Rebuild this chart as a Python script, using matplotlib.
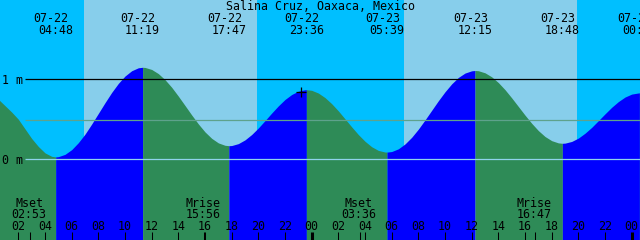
import numpy as np
import matplotlib
matplotlib.use('Agg')
import matplotlib.pyplot as plt

title = 'Salina Cruz, Oaxaca, Mexico'

# tide level (m), hours counted from 07-22 00:00
tide_hours = [0.5, 1.0, 1.5, 2.0, 2.5, 3.0, 3.5, 4.0, 4.5, 4.8,
              5.0, 5.5, 6.0, 6.5, 7.0, 7.5, 8.0, 8.5, 9.0, 9.5, 10.0, 10.5, 11.0, 11.317,
              11.5, 12.0, 12.5, 13.0, 13.5, 14.0, 14.5, 15.0, 15.5, 16.0, 16.5, 17.0, 17.5, 17.783,
              18.0, 18.5, 19.0, 19.5, 20.0, 20.5, 21.0, 21.5, 22.0, 22.5, 23.0, 23.5, 23.6,
              24.0, 24.5, 25.0, 25.5, 26.0, 26.5, 27.0, 27.5, 28.0, 28.5, 29.0, 29.5, 29.65,
              30.0, 30.5, 31.0, 31.5, 32.0, 32.5, 33.0, 33.5, 34.0, 34.5, 35.0, 35.5, 36.0, 36.25,
              36.5, 37.0, 37.5, 38.0, 38.5, 39.0, 39.5, 40.0, 40.5, 41.0, 41.5, 42.0, 42.5, 42.8,
              43.0, 43.5, 44.0, 44.5, 45.0, 45.5, 46.0, 46.5, 47.0, 47.5, 48.0, 48.5, 48.58, 49.0]
tide_level = [0.75, 0.67, 0.59, 0.50, 0.38, 0.26, 0.16, 0.08, 0.037, 0.03,
              0.033, 0.062, 0.121, 0.208, 0.315, 0.441, 0.574, 0.708, 0.836, 0.949, 1.041, 1.107, 1.144, 1.15,
              1.148, 1.123, 1.071, 0.995, 0.900, 0.789, 0.672, 0.554, 0.442, 0.342, 0.262, 0.205, 0.175, 0.17,
              0.172, 0.196, 0.243, 0.310, 0.392, 0.484, 0.578, 0.668, 0.748, 0.810, 0.852, 0.869, 0.87,
              0.862, 0.828, 0.771, 0.695, 0.605, 0.505, 0.405, 0.309, 0.225, 0.157, 0.111, 0.091, 0.09,
              0.097, 0.131, 0.192, 0.275, 0.377, 0.492, 0.612, 0.732, 0.844, 0.943, 1.023, 1.078, 1.106, 1.11,
              1.107, 1.081, 1.031, 0.959, 0.870, 0.768, 0.660, 0.552, 0.450, 0.359, 0.285, 0.233, 0.205, 0.20,
              0.202, 0.223, 0.265, 0.326, 0.399, 0.483, 0.568, 0.650, 0.721, 0.778, 0.815, 0.829, 0.83, 0.826]

# high / low tides
ext_hours = [4.8, 11.317, 17.783, 23.6, 29.65, 36.25, 42.8, 48.58]
ext_kind = ['L', 'H', 'L', 'H', 'L', 'H', 'L', 'H']
ext_dates = ['07-22', '07-22', '07-22', '07-22', '07-23', '07-23', '07-23', '07-24']
ext_times = ['04:48', '11:19', '17:47', '23:36', '05:39', '12:15', '18:48', '00:35']

sunrise_hours = [6.92, 30.92]
sunset_hours = [19.88, 43.88]

moon_hours = [2.883, 15.933, 27.6, 40.783]
moon_names = ['Mset', 'Mrise', 'Mset', 'Mrise']
moon_times = ['02:53', '15:56', '03:36', '16:47']

mean_level = 0.49
now_hour = 23.17
now_level = 0.845

night_col = '#00BFFF'
day_col = '#87CEEB'
flood_col = '#0000FF'
ebb_col = '#2E8B57'

# pixel <-> data conversion for a 640x240 canvas
PX_H = 13.333
PX_M = 80.0
X0 = -8.3
Y0 = 159.3


def hx(px):
    return (px - X0) / PX_H


def my(py):
    return (Y0 - py) / PX_M


t = np.array(tide_hours)
lev = np.array(tide_level)

fig = plt.figure(figsize=(6.4, 2.4), dpi=100)
ax = fig.add_axes([0, 0, 1, 1])
ax.set_xlim(hx(0), hx(640))
ax.set_ylim(my(240), my(0))
ax.axis('off')

ax.axvspan(hx(-5), hx(645), color=night_col, lw=0, zorder=0)
for sr, ss in zip(sunrise_hours, sunset_hours):
    ax.axvspan(sr, ss, color=day_col, lw=0, zorder=0)

# water: green while falling, blue while rising
bounds = [t[0]] + ext_hours + [t[-1]]
kinds = ext_kind + ['L']
bottom = my(240) - 0.2
for k in range(len(bounds) - 1):
    a, b = bounds[k], bounds[k + 1]
    m = (t >= a) & (t <= b)
    col = flood_col if kinds[k] == 'H' else ebb_col
    ax.fill_between(t[m], lev[m], bottom, color=col, lw=0, zorder=1)

ax.hlines(1.0, hx(25), hx(641), color='black', lw=0.9, zorder=2)
ax.hlines(mean_level, hx(25), hx(641), color='#5ea28c', lw=0.9, zorder=2)
ax.hlines(0.0, hx(25), hx(641), color='#8fd3ec', lw=0.9, zorder=2)

font = dict(family='DejaVu Sans Mono', size=8.4, color='black', zorder=5)

ax.text(hx(320), my(10.3), title, ha='center', va='baseline', **font)
for h, d, s in zip(ext_hours, ext_dates, ext_times):
    ax.text(h - 4.5 / PX_H, my(21.7), d, ha='center', va='baseline', **font)
    ax.text(h, my(34), s, ha='center', va='baseline', **font)

ax.text(hx(2), my(83.5), '1 m', ha='left', va='baseline', **font)
ax.text(hx(2), my(163.5), '0 m', ha='left', va='baseline', **font)

for h in range(2, 49, 2):
    w = 2.2 if h % 24 == 0 else 0.75
    ax.vlines(h, bottom, my(231.7), color='black', lw=w, zorder=3)
    ax.text(h, my(230), '%02d' % (h % 24), ha='center', va='baseline', **font)

for h, n, s in zip(moon_hours, moon_names, moon_times):
    ax.vlines(h, bottom, my(231.7), color='black', lw=0.75, zorder=3)
    ax.text(h - 1 / PX_H, my(206.7), n, ha='center', va='baseline', **font)
    ax.text(h - 1 / PX_H, my(218.3), s, ha='center', va='baseline', **font)

ax.plot(now_hour, now_level, marker='+', ms=7.5, mew=0.9, color='black', zorder=4)

fig.savefig('out.png', dpi=100)
